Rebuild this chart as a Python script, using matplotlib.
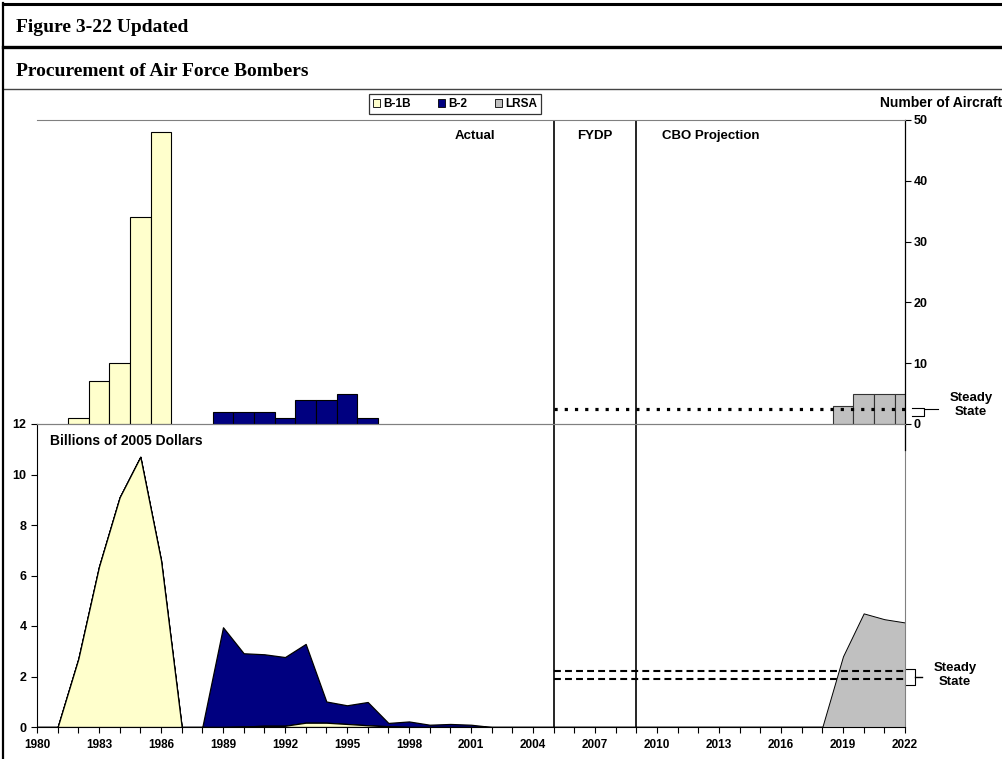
import numpy as np
import pandas as pd
import matplotlib
matplotlib.use("Agg")
import matplotlib.pyplot as plt
from matplotlib.lines import Line2D
from matplotlib.patches import Patch
import matplotlib.transforms as mtransforms

# Número de aviones comprados por año
b1b_anios = [1982, 1983, 1984, 1985, 1986]
b1b_aviones = [1, 7, 10, 34, 48]
b2_anios = [1989, 1990, 1991, 1992, 1993, 1994, 1995, 1996]
b2_aviones = [2, 2, 2, 1, 4, 4, 5, 1]
lrsa_anios = [2019, 2020, 2021, 2022]
lrsa_aviones = [3, 5, 5, 5]

# Coste (miles de millones de dólares de 2005)
b1b_coste_anios = [1981, 1982, 1983, 1984, 1985, 1986, 1987, 1988, 1989, 1990,
                   1991, 1992, 1993, 1994, 1995, 1996, 1997, 1998]
b1b_coste = [0, 2.7, 6.35, 9.1, 10.7, 6.6, 0, 0, 0, 0.02,
             0.05, 0.05, 0.17, 0.17, 0.12, 0.07, 0.03, 0]
b2_coste_anios = [1988, 1989, 1990, 1991, 1992, 1993, 1994, 1995, 1996, 1997,
                  1998, 1999, 2000, 2001, 2002]
b2_coste = [0, 3.95, 2.9, 2.83, 2.72, 3.12, 0.84, 0.74, 0.92, 0.13,
            0.22, 0.09, 0.12, 0.09, 0]
lrsa_coste_anios = [2018, 2019, 2020, 2021, 2022]
lrsa_coste = [0, 2.8, 4.5, 4.27, 4.14]

# Estado estacionario
estable_aviones = 2.5
estable_coste = [2.2, 1.92]
divisiones = [2005, 2009]

color_b1b = "#FFFFCC"
color_b2 = "#000080"
color_lrsa = "#C0C0C0"

plt.rcParams["font.family"] = ["Liberation Sans", "DejaVu Sans"]
plt.rcParams["font.weight"] = "bold"

W, H = 1003, 759
fig = plt.figure(figsize=(W / 100, H / 100), dpi=100)


def px(x, y):
    return x / W, 1 - y / H


# Marco de la figura
for (x0, y0, x1, y1, lw, c) in [(3, 4, 1003, 4, 2.2, "black"),
                                 (3, 47, 1003, 47, 2.4, "black"),
                                 (3, 89, 1003, 89, 1.0, "#444444"),
                                 (3, 3, 3, 759, 1.6, "black")]:
    a, b = px(x0, y0)
    c2, d = px(x1, y1)
    fig.add_artist(Line2D([a, c2], [b, d], color=c, lw=lw, transform=fig.transFigure))

fig.text(*px(16, 28), "Figure 3-22 Updated", family="Liberation Serif",
         weight="bold", fontsize=14, va="center", ha="left")
fig.text(*px(16, 72), "Procurement of Air Force Bombers", family="Liberation Serif",
         weight="bold", fontsize=14, va="center", ha="left")

# Ejes
l, b_bot = px(37, 727)
r, b_top = px(905, 424)
_, t_top = px(905, 120)
ax_bot = fig.add_axes([l, b_bot, r - l, b_top - b_bot])
ax_top = fig.add_axes([l, b_top, r - l, t_top - b_top])

# --- Gráfica superior: número de aviones ---
ax_top.bar(b1b_anios, b1b_aviones, width=1, color=color_b1b, edgecolor="black", lw=0.8)
ax_top.bar(b2_anios, b2_aviones, width=1, color=color_b2, edgecolor="black", lw=0.8)
ax_top.bar(lrsa_anios, lrsa_aviones, width=1, color=color_lrsa, edgecolor="#333333", lw=0.8)
ax_top.set_xlim(1980, 2022)
ax_top.set_ylim(0, 50)
ax_top.set_xticks([])
ax_top.yaxis.tick_right()
ax_top.set_yticks(range(0, 51, 10))
ax_top.tick_params(axis="y", direction="out", length=4, width=0.8, labelsize=9, pad=2)
for lab in ax_top.get_yticklabels():
    lab.set_fontweight("bold")
ax_top.spines["left"].set_visible(False)
ax_top.spines["top"].set_color("#808080")
ax_top.spines["bottom"].set_color("#808080")
ax_top.spines["right"].set_bounds(-4.2, 50)
ax_top.spines["right"].set_linewidth(0.9)
ax_top.patch.set_visible(False)

ax_top.plot([divisiones[0], 2022], [estable_aviones, estable_aviones], color="black",
            lw=2.3, linestyle=(0, (1, 2.2)), zorder=5)
for x in divisiones:
    ax_top.axvline(x, color="black", lw=1.2)

ax_top.text(2001.2, 47.3, "Actual", ha="center", va="center", fontsize=9.5, weight="bold")
ax_top.text(2007.0, 47.3, "FYDP", ha="center", va="center", fontsize=9.5, weight="bold")
ax_top.text(2012.6, 47.3, "CBO Projection", ha="center", va="center", fontsize=9.5,
            weight="bold")

# corchete estado estacionario (superior)
tr = mtransforms.blended_transform_factory(ax_top.transAxes, ax_top.transData)
x0, x1, x2 = 1.008, 1.022, 1.038
y_hi, y_lo = 2.6, 1.3
ym = (y_hi + y_lo) / 2
ax_top.plot([x0, x1, x1, x0], [y_hi, y_hi, y_lo, y_lo], color="black", lw=0.8,
            transform=tr, clip_on=False)
ax_top.plot([x1, x2], [ym + 0.5, ym + 0.5], color="black", lw=0.8, transform=tr, clip_on=False)
fig.text(*px(971, 405), "Steady\nState", ha="center", va="center", fontsize=9.5,
         weight="bold", linespacing=1.25)
fig.text(*px(880, 103), "Number of Aircraft", ha="left", va="center", fontsize=10,
         weight="bold")

# --- Gráfica inferior: coste ---
anios = np.arange(1980, 2023)
s_b1b = pd.Series(b1b_coste, index=b1b_coste_anios).reindex(anios, fill_value=0).values
s_b2 = pd.Series(b2_coste, index=b2_coste_anios).reindex(anios, fill_value=0).values

ax_bot.fill_between(anios, s_b1b, s_b1b + s_b2, facecolor=color_b2, edgecolor="black", lw=0.9)
ax_bot.fill_between(anios, 0, s_b1b, facecolor=color_b1b, edgecolor="black", lw=0.9)
ax_bot.fill_between(lrsa_coste_anios, 0, lrsa_coste, facecolor=color_lrsa,
                    edgecolor="black", lw=0.7)

ax_bot.set_xlim(1980, 2022)
ax_bot.set_ylim(0, 12)
ax_bot.set_yticks(range(0, 13, 2))
ax_bot.set_xticks(anios)
ax_bot.set_xticklabels([str(a) if (a - 1980) % 3 == 0 else "" for a in anios])
ax_bot.tick_params(axis="both", direction="out", length=4, width=0.8, labelsize=8.5)
ax_bot.tick_params(axis="y", labelsize=9)
ax_bot.tick_params(axis="x", pad=5)
for lab in ax_bot.get_xticklabels() + ax_bot.get_yticklabels():
    lab.set_fontweight("bold")
ax_bot.spines["top"].set_color("#808080")
ax_bot.spines["right"].set_color("#808080")

for y in estable_coste:
    ax_bot.plot([divisiones[0], 2022], [y, y], color="black", lw=1.5,
                linestyle=(0, (3.3, 2)), zorder=5)
for x in divisiones:
    ax_bot.axvline(x, color="black", lw=1.2)

ax_bot.text(0.015, 0.944, "Billions of 2005 Dollars", transform=ax_bot.transAxes,
            ha="left", va="center", fontsize=10, weight="bold")

tr2 = mtransforms.blended_transform_factory(ax_bot.transAxes, ax_bot.transData)
x0, x1, x2 = 1.0, 1.011, 1.02
y_hi, y_lo = 2.31, 1.67
ym = (y_hi + y_lo) / 2
ax_bot.plot([x0, x1, x1, x0], [y_hi, y_hi, y_lo, y_lo], color="black", lw=0.8,
            transform=tr2, clip_on=False)
ax_bot.plot([x1, x2], [ym, ym], color="black", lw=1.0, transform=tr2, clip_on=False)
fig.text(*px(955, 675), "Steady\nState", ha="center", va="center", fontsize=9.5,
         weight="bold", linespacing=1.25)

# Leyenda
handles = [Patch(facecolor=color_b1b, edgecolor="black", lw=0.6, label="B-1B"),
           Patch(facecolor=color_b2, edgecolor="black", lw=0.6, label="B-2"),
           Patch(facecolor=color_lrsa, edgecolor="black", lw=0.6, label="LRSA")]
leg = fig.legend(handles=handles, loc="center", bbox_to_anchor=px(455, 104), ncol=3,
                 frameon=True, fancybox=False, handlelength=0.6,
                 handleheight=0.6, handletextpad=0.3, columnspacing=2.3,
                 borderpad=0.3, edgecolor="black", prop={"weight": "bold", "size": 8.5})
leg.get_frame().set_linewidth(0.9)

fig.savefig("out.png", dpi=100)
